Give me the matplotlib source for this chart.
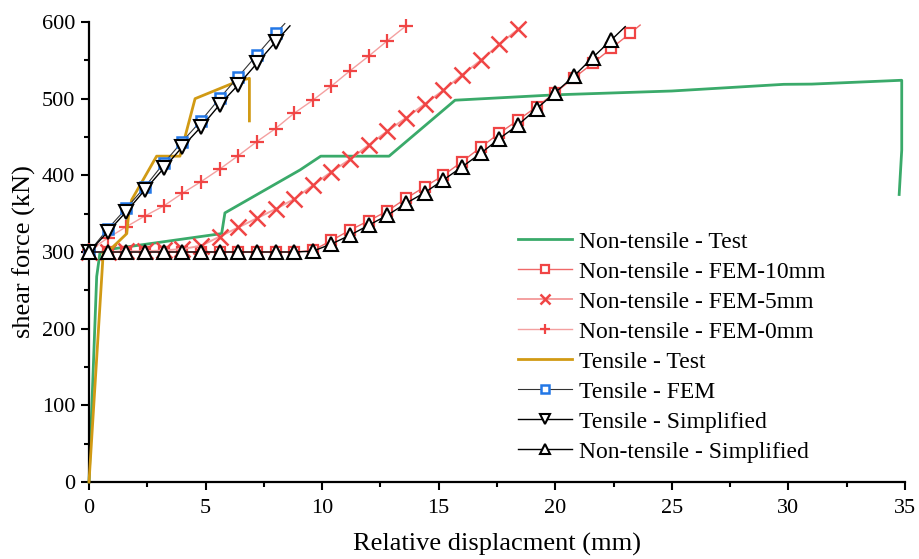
import matplotlib
matplotlib.use("Agg")
import matplotlib.pyplot as plt
from matplotlib.ticker import MultipleLocator

plt.rcParams['font.family'] = ['Liberation Serif', 'DejaVu Serif']

# ---------------- data ----------------
nt_test_x = [0, 0.33, 0.47, 1.0, 5.69, 5.83, 9.05, 9.94, 12.87, 15.7, 20.0, 25.0, 29.8, 31.0, 34.86, 34.86, 34.75]
nt_test_y = [0, 268, 299, 304, 324, 351, 407, 425, 425, 498, 505, 510, 518.7, 519, 524, 433, 375]

t_test_x = [0, 0.61, 0.97, 1.62, 1.69, 1.83, 2.9, 3.9, 4.55, 6.4, 6.88, 6.88]
t_test_y = [0, 299, 305, 324, 346, 368, 425, 425, 500, 523, 526.5, 471]

grid_x = [0, 0.8, 1.6, 2.4, 3.2, 4.0, 4.8, 5.6, 6.4, 7.2, 8.0, 8.8, 9.6,
          10.4, 11.2, 12.0, 12.8, 13.6, 14.4, 15.2, 16.0, 16.8, 17.6, 18.4,
          19.2, 20.0, 20.8, 21.6, 22.4, 23.2]

fem10_x = grid_x + [23.64]
fem10_y = [300, 300, 300, 300, 300, 300, 300, 300, 300, 300, 300, 300, 302,
           315, 328.7, 340.8, 353.5, 370, 385, 400, 417.8, 436.5, 455, 472,
           489.5, 508, 527, 546, 565.6, 585, 596]

fem5_x = grid_x[:24]
fem5_y = [300, 300, 301, 301, 302, 304, 308, 320, 332, 344, 356, 369, 387,
          404.7, 421, 439.5, 457.8, 475, 493, 511, 531, 550, 571, 590.4]

fem0_x = grid_x[:18]
fem0_y = [302, 318, 333, 347, 360, 376.5, 391.7, 408, 425.6, 444, 461, 481,
          498, 516.5, 536.5, 555.6, 575.6, 595]

t_fem_x = grid_x[:11] + [8.4]
t_fem_y = [300, 330, 357, 385, 415.6, 444, 471, 500.4, 528.6, 557, 585, 598]

t_simp_x = grid_x[:11] + [8.62]
t_simp_y = [300, 326, 352.6, 381, 409, 437, 463, 492, 518, 546, 574, 595]

nt_simp_x = grid_x[:29] + [23.0]
nt_simp_y = [300, 300, 300, 300, 300, 300, 300, 300, 300, 300, 300, 300, 301,
             310.5, 322, 335, 348, 363.5, 377.5, 394, 411, 428.7, 448, 465.6,
             487, 508, 529.5, 553.5, 576.5, 594]

labels = ["Non-tensile - Test", "Non-tensile - FEM-10mm", "Non-tensile - FEM-5mm",
          "Non-tensile - FEM-0mm", "Tensile - Test", "Tensile - FEM",
          "Tensile - Simplified", "Non-tensile - Simplified"]

# ---------------- plot ----------------
fig = plt.figure(figsize=(9.19, 5.59), dpi=100)
ax = fig.add_axes([89/919, 1-482/559, 816/919, 460/559])

green = '#3aaa6a'
red = '#f04545'
pale = '#f4a0a0'
gold = '#d19a14'
blue = '#2277e6'

def all_but_last(xs):
    return list(range(len(xs) - 1))

ax.plot(nt_test_x, nt_test_y, color=green, lw=2.0, label=labels[0], zorder=2)
ax.plot(fem10_x, fem10_y, color='#f06868', lw=1.0, marker='s', ms=7.5,
        mfc='white', mec=red, mew=1.6, markevery=all_but_last(fem10_x),
        label=labels[1], zorder=3)
ax.plot(fem5_x, fem5_y, color=pale, lw=1.4, marker='x', ms=11,
        mec=red, mew=1.8, label=labels[2], zorder=3)
ax.plot(fem0_x, fem0_y, color=pale, lw=1.0, marker='+', ms=10,
        mec=red, mew=1.6, label=labels[3], zorder=3)
ax.plot(t_test_x, t_test_y, color=gold, lw=2.0, label=labels[4], zorder=4)
ax.plot(t_fem_x, t_fem_y, color='#333333', lw=0.8, marker='s', ms=7.5,
        mfc='white', mec=blue, mew=1.8, markevery=all_but_last(t_fem_x),
        label=labels[5], zorder=5)
ax.plot(t_simp_x, t_simp_y, color='black', lw=1.0, marker='v', ms=10.5,
        mfc='white', mec='black', mew=1.5, markevery=all_but_last(t_simp_x),
        label=labels[6], zorder=6)
ax.plot(nt_simp_x, nt_simp_y, color='black', lw=1.0, marker='^', ms=10.5,
        mfc='white', mec='black', mew=1.5, markevery=all_but_last(nt_simp_x),
        label=labels[7], zorder=6)

ax.set_xlim(0, 35)
ax.set_ylim(0, 600)
ax.xaxis.set_major_locator(MultipleLocator(5))
ax.xaxis.set_minor_locator(MultipleLocator(2.5))
ax.yaxis.set_major_locator(MultipleLocator(100))
ax.yaxis.set_minor_locator(MultipleLocator(50))
for s in ['top', 'right']:
    ax.spines[s].set_visible(False)
for s in ['left', 'bottom']:
    ax.spines[s].set_linewidth(1.6)
ax.tick_params(which='major', direction='out', length=6, width=1.5, labelsize=16, pad=4)
ax.tick_params(which='minor', direction='out', length=3.5, width=1.5)
ax.tick_params(axis='x', which='major', pad=6)
for ln in ax.lines:
    ln.set_clip_on(False)

ax.set_xlabel("Relative displacment (mm)", fontsize=19, labelpad=11)
ax.set_ylabel("shear force (kN)", fontsize=19, labelpad=4)

leg = ax.legend(loc='upper left', bbox_to_anchor=((518-89)/816, (482-231)/460),
                frameon=False, fontsize=17, borderpad=0, borderaxespad=0,
                handlelength=2.3, handletextpad=0.3, labelspacing=0.36,
                markerscale=0.7)

fig.savefig("out.png", dpi=100)
